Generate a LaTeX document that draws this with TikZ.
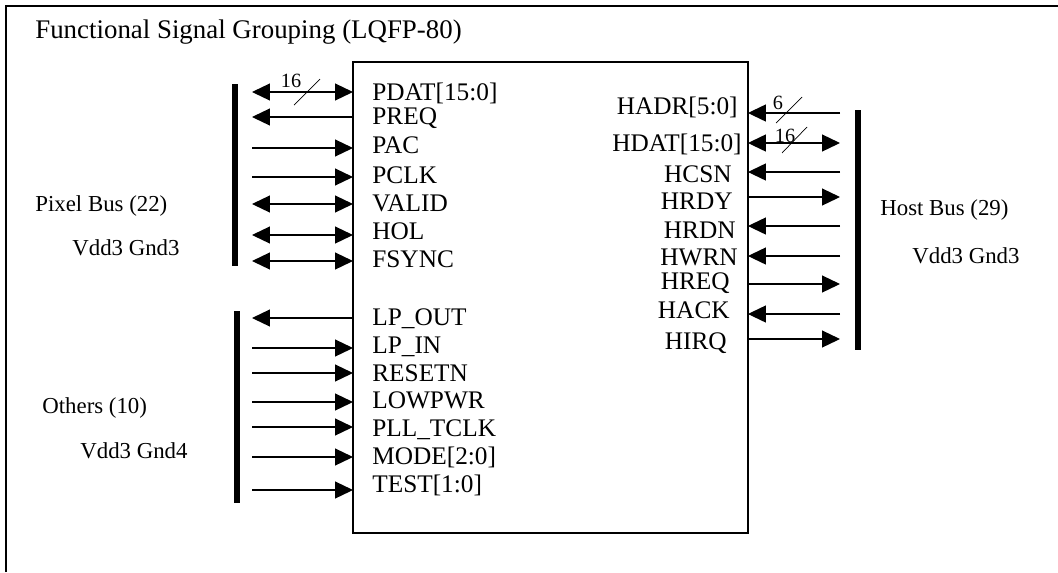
\documentclass[tikz,border=0pt]{standalone}
\usepackage{fontspec}
\setmainfont{Liberation Serif}
\usetikzlibrary{positioning, calc, arrows.meta}

\begin{document}
\begin{tikzpicture}[
  x=0.02cm, y=-0.02cm,
  >={Triangle[length=0.36cm,width=0.34cm]},
  sig/.style={line width=0.7pt},
  sigin/.style={sig, ->},
  sigout/.style={sig, <-},
  sigbi/.style={sig, <->},
  busbar/.style={line width=3.4pt},
  pinlbl/.style={font=\fontsize{14.4}{16}\selectfont, inner sep=0pt},
  grplbl/.style={font=\fontsize{13}{15}\selectfont, inner sep=0pt, anchor=base west},
  widthlbl/.style={font=\fontsize{11.5}{13}\selectfont, inner sep=0pt, anchor=base},
]
\useasboundingbox (0,0) rectangle (1058,572);

% ---------------- outer frame (cut at right and bottom) ----------------
\draw[line width=1.1pt] (6,572) -- (6,6) -- (1058,6);
\node[anchor=base west, font=\fontsize{15.3}{18}\selectfont, inner sep=0pt]
  (title) at (35,38) {Functional Signal Grouping (LQFP-80)};

% =====================================================================
% Chip body
% =====================================================================
\node[draw, line width=1.1pt, inner sep=0pt, outer sep=0pt,
      minimum width=7.9cm, minimum height=9.42cm, anchor=north west]
  (chip) at (353,62) {};

% =====================================================================
% Pixel bus (left, top)
% =====================================================================
\draw[busbar] (235,84) -- (235,266);
\foreach \lbl/\ay/\by/\sty [count=\i] in {
    {PDAT[15:0]}/92/100/sigbi,
    PREQ/117/124/sigout,
    PAC/148/153/sigin,
    PCLK/177/183/sigin,
    VALID/204/211/sigbi,
    HOL/235/239/sigbi,
    FSYNC/261/267/sigbi} {
  \coordinate (pb\i) at (252,\ay);
  \node[pinlbl, anchor=base west] (pp\i) at (372,\by) {\lbl};
  \draw[\sty] (pb\i) -- (pb\i -| chip.west);
}
\draw[thin] (294,105) -- (320,79);
\node[widthlbl] (wpdat) at (291,87) {16};
\node[grplbl] (pixgrp) at (35,211) {Pixel Bus (22)};
\node[grplbl] (pixpwr) at (72,255) {Vdd3 Gnd3};

% =====================================================================
% Others (left, bottom)
% =====================================================================
\draw[busbar] (237,311) -- (237,503);
\foreach \lbl/\ay/\by/\sty [count=\i] in {
    LP\_OUT/318/325/sigout,
    LP\_IN/348/353/sigin,
    RESETN/373/381/sigin,
    LOWPWR/402/408/sigin,
    PLL\_TCLK/427/436/sigin,
    {MODE[2:0]}/457/464/sigin,
    {TEST[1:0]}/490/492/sigin} {
  \coordinate (ob\i) at (252,\ay);
  \node[pinlbl, anchor=base west] (op\i) at (372,\by) {\lbl};
  \draw[\sty] (ob\i) -- (ob\i -| chip.west);
}
\node[grplbl] (othgrp) at (42,413) {Others (10)};
\node[grplbl] (othpwr) at (80,458) {Vdd3 Gnd4};

% =====================================================================
% Host bus (right)
% =====================================================================
\draw[busbar] (858,110) -- (858,350);
\foreach \lbl/\ay/\by/\rx/\sty [count=\i] in {
    {HADR[5:0]}/113/114/738/sigin,
    {HDAT[15:0]}/143/151/742/sigbi,
    HCSN/172/182/732/sigin,
    HRDY/197/209/733/sigout,
    HRDN/226/238/736/sigin,
    HWRN/256/265/738/sigin,
    HREQ/284/289/730/sigout,
    HACK/314/318/730/sigin,
    HIRQ/339/349/727/sigout} {
  \coordinate (hb\i) at (840,\ay);
  \node[pinlbl, anchor=base east] (hp\i) at (\rx,\by) {\lbl};
  \draw[\sty] (hb\i) -- (hb\i -| chip.east);
}
\draw[thin] (776,123) -- (802,97);
\node[widthlbl] (whadr) at (778,109) {6};
\draw[thin] (782,153) -- (807,127);
\node[widthlbl] (whdat) at (785,142) {16};
\node[grplbl] (hstgrp) at (880,215) {Host Bus (29)};
\node[grplbl] (hstpwr) at (912,263) {Vdd3 Gnd3};

\end{tikzpicture}
\end{document}
